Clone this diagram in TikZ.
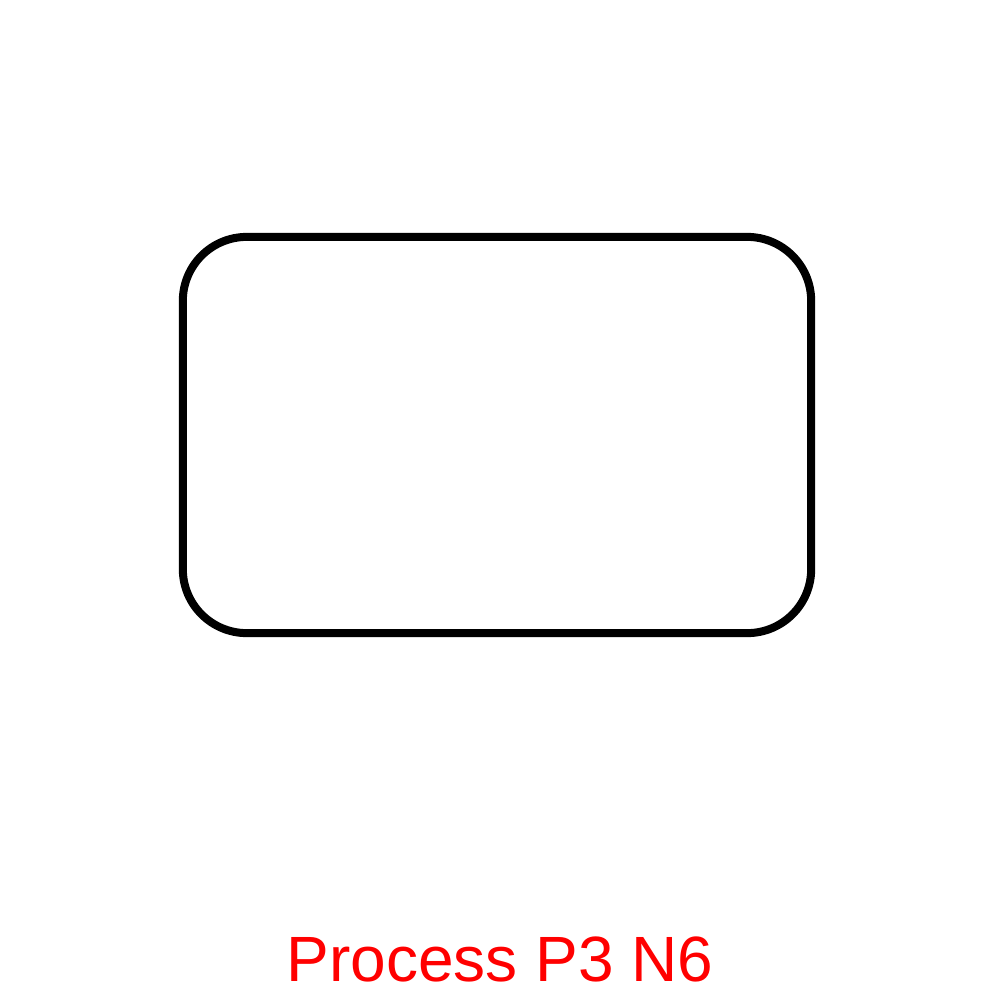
\documentclass[tikz,border=0pt]{standalone}
\usepackage{fontspec}
\setmainfont{Liberation Sans}
\usepackage{xcolor}
\definecolor{labelred}{RGB}{255,0,0}
\usetikzlibrary{positioning}

\begin{document}
\begin{tikzpicture}[x=0.01cm, y=-0.01cm, process/.style={
	rectangle, minimum width = 6.28cm, minimum height = 3.96cm,
	rounded corners = 0.64cm, line width = 0.08cm, draw = black, fill = white},
	caption/.style={text = labelred, font = \fontsize{18.2pt}{22pt}\selectfont, inner sep = 0pt}]
	\useasboundingbox (0,0) rectangle (1000,1000);
	\node (P) [process] at (497,435) {};
	\node (L) [caption, anchor=base] at (500,981) {Process P3 N6};
\end{tikzpicture}
\end{document}
